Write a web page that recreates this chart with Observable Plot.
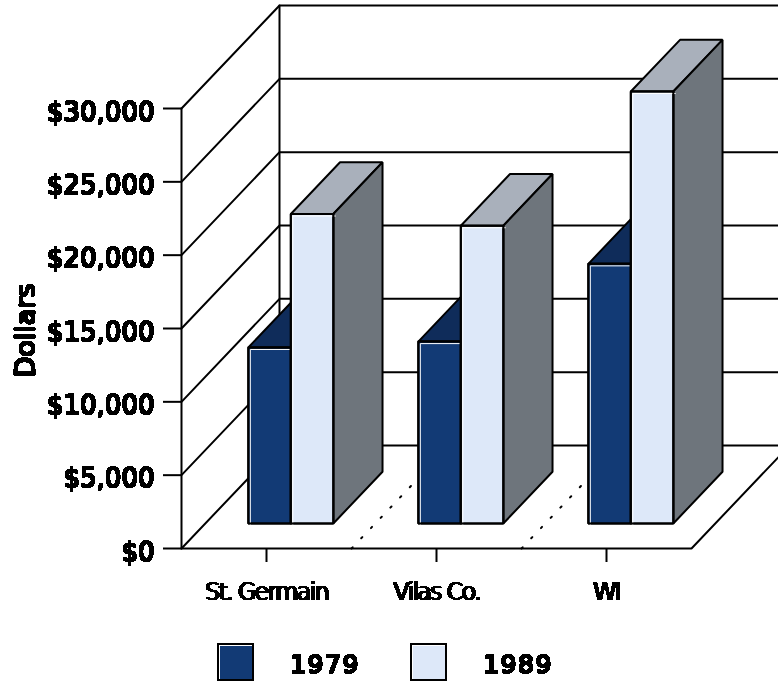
<!DOCTYPE html>
<html><head><meta charset="utf-8">
<script src="https://cdn.jsdelivr.net/npm/d3@7"></script>
<script src="https://cdn.jsdelivr.net/npm/@observablehq/plot@0.6"></script>
<style>
html,body{margin:0;padding:0;background:#fff;overflow:hidden}
#wrap{position:relative;width:778px;height:685px;font-family:"DejaVu Sans",sans-serif;color:#000}
svg text{font-family:"DejaVu Sans",sans-serif}
[aria-label="y-axis tick label"] text{filter:url(#hard)}
[aria-label="y-axis label"] text{font-size:27px;filter:url(#hard)}
[aria-label="x-axis tick label"] text{font-size:24px;letter-spacing:-1.8px;filter:url(#hardx)}
.sw{position:absolute;top:643px;width:33px;height:34px;border:2px solid #000;box-shadow:inset 1px 1px 0 #fff}
.lb{position:absolute;top:650px;font-size:25px;line-height:30px;letter-spacing:1.6px;filter:url(#hard)}
</style></head>
<body>
<svg width="0" height="0" style="position:absolute"><defs>
<filter id="hard" x="-10%" y="-10%" width="120%" height="120%" color-interpolation-filters="sRGB"><feMorphology operator="dilate" radius="1 0.5"/><feComponentTransfer><feFuncA type="discrete" tableValues="0 1"/></feComponentTransfer></filter>
<filter id="hardx" x="-10%" y="-10%" width="120%" height="120%" color-interpolation-filters="sRGB"><feMorphology operator="dilate" radius="1 0"/><feComponentTransfer><feFuncA type="discrete" tableValues="0 1"/></feComponentTransfer></filter>
</defs></svg>
<div id="wrap"></div>
<script>
const categories = ["St. Germain", "Vilas Co.", "WI"];
const years = ["1979", "1989"];
const values1979 = [12000, 12400, 17700];
const values1989 = [21100, 20300, 29450];
const yTicks = [0, 5000, 10000, 15000, 20000, 25000, 30000];
const dividers = [0.5, 1.5];
const frontColors = ["#123a75", "#dde8f9"];
const topColors = ["#0f2c5a", "#a9b0bb"];
const sideColor = "#6e757c";

// oblique projection: depth 0 (front) .. 1 (back) shifts in scale units
const depthX = 98 / 170, depthY = 7023;
const px = p => p[0] + p[2] * depthX;
const py = p => p[1] + p[2] * depthY;
const barD0 = 0.243, barD1 = 0.745, barW = 0.25, barShift = 0.003, xMin = -0.5, xMax = 2.5;

const lineOpts = {x: px, y: py, stroke: "#000", strokeWidth: 2, strokeLinejoin: "miter"};

const gridMarks = yTicks.flatMap(v => [
  Plot.line([[xMin, v, 0], [xMin, v, 1], [xMax, v, 1]], lineOpts)
]);

const frameMarks = [
  Plot.line([[xMin, 0, 0], [xMin, 30000, 0]], lineOpts),
  Plot.line([[xMin, 0, 1], [xMin, 30000, 1]], lineOpts),
  Plot.line([[xMin, 0, 0], [xMax, 0, 0], [xMax, 0, 1]], lineOpts),
  ...dividers.map(u => Plot.line([[u, 0, 0], [u, 0, 1]], {...lineOpts, strokeDasharray: "1.6,12.5"}))
];

function barMarks(i, s, v) {
  const u0 = i + barShift + (s - 1) * barW, u1 = u0 + barW;
  const face = (fill, pts) => Plot.line(pts, {...lineOpts, fill, curve: "linear-closed"});
  return [
    face(topColors[s], [[u0, v, barD0], [u1, v, barD0], [u1, v, barD1], [u0, v, barD1]]),
    face(sideColor, [[u1, 0, barD0], [u1, v, barD0], [u1, v, barD1], [u1, 0, barD1]]),
    face(frontColors[s], [[u0, 0, barD0], [u1, 0, barD0], [u1, v, barD0], [u0, v, barD0]]),
    Plot.line([[u0, 0, barD0], [u0, v, barD0], [u1, v, barD0]], {
      x: px, y: py, stroke: "#fff", strokeWidth: 1, dx: 2, dy: 2, strokeLinejoin: "miter"
    }),
    Plot.line([[u0, v, barD0], [u1, v, barD0], [u1, 0, barD0], [u0, 0, barD0], [u0, v, barD0]], lineOpts)
  ];
}

const bars = categories.flatMap((c, i) => [
  ...barMarks(i, 0, values1979[i]),
  ...barMarks(i, 1, values1989[i])
]);

const chart = Plot.plot({
  width: 778, height: 640,
  marginLeft: 181, marginRight: 0, marginTop: 112, marginBottom: 92,
  x: {type: "linear", domain: [xMin, (778 - 266) / 170], range: [181, 778]},
  y: {type: "linear", domain: [0, 30000], range: [548, 108]},
  style: {background: "transparent", overflow: "hidden"},
  marks: [
    ...gridMarks,
    ...frameMarks,
    ...bars,
    Plot.axisY({
      ticks: yTicks, tickSize: 18, strokeWidth: 2, strokeOpacity: 1,
      tickFormat: () => "", label: null
    }),
    Plot.axisY({
      ticks: yTicks, tickSize: 0, tickPadding: 27, dy: 4,
      tickFormat: d3.format("$,"), fontSize: 26,
      label: "Dollars", labelAnchor: "center", labelArrow: "none", labelOffset: 166
    }),
    Plot.axisX({
      ticks: [0, 1, 2], tickSize: 14, tickPadding: 20, strokeWidth: 2, strokeOpacity: 1,
      tickFormat: i => categories[i], fontSize: 20, label: null
    })
  ]
});
const wrap = document.getElementById("wrap");
wrap.appendChild(chart);
years.forEach((y, s) => {
  const sw = document.createElement("div");
  sw.className = "sw"; sw.style.left = (217 + 193 * s) + "px"; sw.style.background = frontColors[s];
  const lb = document.createElement("div");
  lb.className = "lb"; lb.style.left = (290 + 193 * s) + "px"; lb.textContent = y;
  wrap.append(sw, lb);
});
</script></body></html>
